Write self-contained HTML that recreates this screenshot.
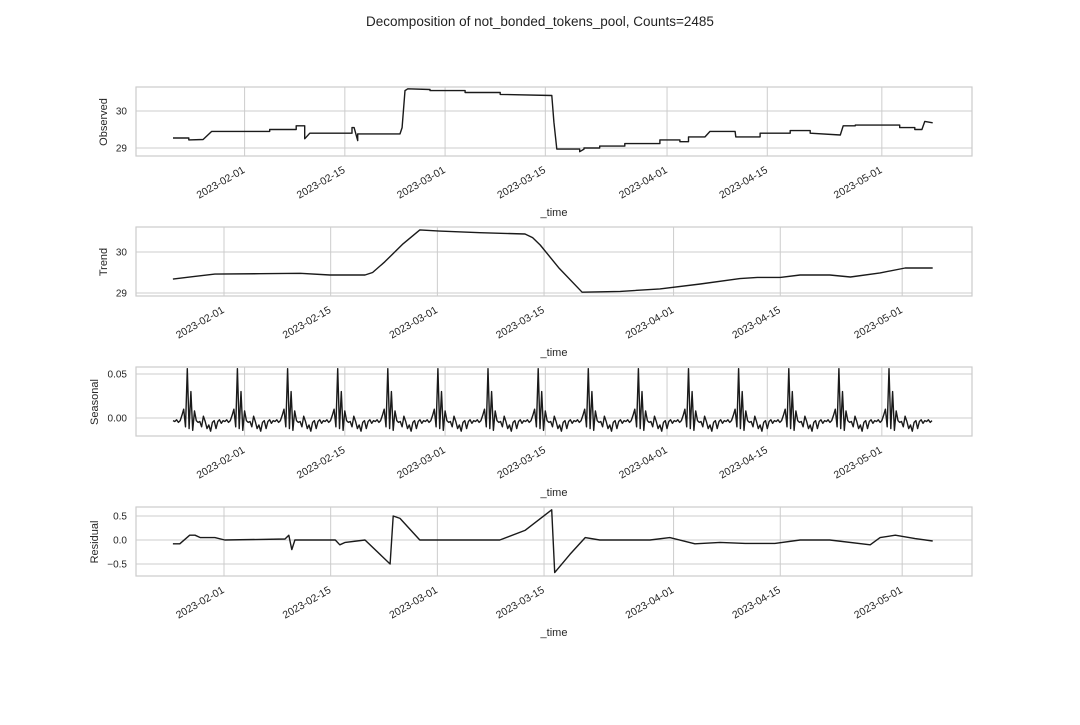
<!DOCTYPE html>
<html><head><meta charset="utf-8"><style>
body{margin:0;background:#fff;width:1080px;height:720px;overflow:hidden}
svg{font-family:"Liberation Sans",sans-serif}
</style></head><body>
<svg id="c" width="1080" height="720" xmlns="http://www.w3.org/2000/svg">
<text x="540" y="26" text-anchor="middle" font-size="13.5" fill="#222">Decomposition of not_bonded_tokens_pool, Counts=2485</text>
</svg>
<script>
// x ticks (days since 2023-01-22)
const tickDays=[10,24,38,52,69,83,99];
const tickLabels=["2023-02-01","2023-02-15","2023-03-01","2023-03-15","2023-04-01","2023-04-15","2023-05-01"];
// Observed (step series)
const obsDays=[0,2.2,2.2,4.2,5.4,13.5,13.5,17.2,17.2,18.0,18.4,18.4,19.1,25.0,25.0,25.3,25.8,25.8,31.7,32.0,32.4,32.8,35.9,35.9,40.8,40.8,45.7,45.7,52.9,53.2,53.6,56.8,56.8,57.4,57.4,59.6,59.6,63.1,63.1,68.0,68.0,70.8,70.8,72,72,74.3,75.0,78.5,78.6,82.0,82.0,86.2,86.2,89.0,89.0,93.2,93.6,95.3,95.3,101.5,101.5,103.6,103.6,104.6,105.0,106.1];
const obsVals=[29.27,29.27,29.22,29.23,29.45,29.45,29.5,29.5,29.6,29.6,29.6,29.25,29.4,29.4,29.55,29.55,29.2,29.38,29.38,29.55,30.55,30.6,30.58,30.55,30.55,30.5,30.5,30.45,30.42,29.7,28.97,28.97,28.9,28.97,29.0,29.0,29.05,29.05,29.12,29.12,29.22,29.22,29.17,29.17,29.3,29.3,29.45,29.45,29.3,29.3,29.4,29.4,29.47,29.47,29.4,29.35,29.6,29.6,29.62,29.62,29.55,29.55,29.5,29.5,29.72,29.68];
// Trend
const trendDays=[3.3,6,8.8,14.7,20.0,23.9,28.5,29.5,31.1,33.5,35.7,38.3,43.6,49.5,50.5,51.5,54,57.0,62.0,67.2,72.5,77.7,80,83.0,85.6,89.5,92.2,96.1,99.4,103.0];
const trendVals=[29.34,29.4,29.46,29.47,29.48,29.44,29.44,29.5,29.76,30.2,30.54,30.51,30.47,30.44,30.35,30.17,29.6,29.02,29.04,29.1,29.22,29.35,29.38,29.38,29.44,29.44,29.39,29.49,29.61,29.61];
// Seasonal weekly pattern (28 samples, 6h each)
const seasonalPattern=[-0.003,-0.005,-0.004,-0.010,0.002,-0.004,-0.012,-0.008,-0.015,-0.005,-0.003,-0.012,-0.004,-0.002,-0.006,-0.003,-0.004,-0.002,-0.005,-0.003,0.003,0.010,-0.010,0.056,-0.012,0.030,-0.014,0.008];
// Residual
const residDays=[3.3,4.2,5.5,6.2,6.9,8.8,10.1,18.0,18.5,18.9,19.3,24.6,25.2,25.9,28.5,31.8,32.2,33.1,35.7,46.2,49.5,53.0,53.4,55.4,57.4,59.3,65.9,68.5,71.8,75.1,78.4,82.3,85.6,89.5,94.8,96.1,98.1,100.7,103.0];
const residVals=[-0.08,-0.08,0.1,0.1,0.05,0.05,0.0,0.02,0.1,-0.2,0.0,0.0,-0.1,-0.05,0.0,-0.5,0.5,0.45,0.0,0.0,0.2,0.63,-0.68,-0.3,0.05,0.0,0.0,0.05,-0.08,-0.05,-0.07,-0.07,0.0,0.0,-0.1,0.05,0.1,0.03,-0.02];

const svg=document.getElementById('c');
const NS='http://www.w3.org/2000/svg';
function mk(t,a,p){const e=document.createElementNS(NS,t);for(const k in a)e.setAttribute(k,a[k]);(p||svg).appendChild(e);return e;}
const X0=136,X1=972;
const panels=[
 {name:'observed',label:'Observed',lx:107,top:87,x:d=>173+d*7.16,y:v=>111+(30-v)*37,yt:[29,30],fmt:v=>v.toString()},
 {name:'trend',label:'Trend',lx:107,top:227,x:d=>224+(d-10)*7.62,y:v=>252+(30-v)*41,yt:[29,30],fmt:v=>v.toString()},
 {name:'seasonal',label:'Seasonal',lx:98,top:367,x:d=>173+d*7.16,y:v=>418-v*880,yt:[0,0.05],fmt:v=>v.toFixed(2)},
 {name:'residual',label:'Residual',lx:98,top:507,x:d=>224+(d-10)*7.62,y:v=>540-v*48,yt:[-0.5,0,0.5],fmt:v=>(v<0?'\u2212':'')+Math.abs(v).toFixed(1)}
];
const seasDays=[],seasVals=[];
for(let i=0;i<=424;i++){seasDays.push(i*0.25);seasVals.push(seasonalPattern[(i+15)%28]);}
const series=[[obsDays,obsVals],[trendDays,trendVals],[seasDays,seasVals],[residDays,residVals]];
panels.forEach((p,pi)=>{
 const g=mk('g',{});
 
 
 const T=p.top,B=T+69;
 tickDays.forEach((d,i)=>{
  const x=p.x(d);
  const gl=mk('line',{x1:x,x2:x,y1:T,y2:B,stroke:'#cccccc','stroke-width':1},g);
  
  
  const tx=x+1,ty=B+16;
  const t=mk('text',{x:tx,y:ty,'font-size':10.5,fill:'#262626','text-anchor':'end',transform:`rotate(-30 ${tx} ${ty})`},g);
  t.textContent=tickLabels[i];
  
  
 });
 p.yt.forEach(v=>{
  const y=p.y(v);
  const gl=mk('line',{x1:X0,x2:X1,y1:y,y2:y,stroke:'#cccccc','stroke-width':1},g);
  
  
  const t=mk('text',{x:X0-9,y:y+3.5,'font-size':10,fill:'#262626','text-anchor':'end'},g);
  t.textContent=p.fmt(v);
  
  
 });
 const fr=mk('rect',{x:X0,y:T,width:X1-X0,height:69,fill:'none',stroke:'#cccccc','stroke-width':1.2},g);
 
 
 const [ds,vs]=series[pi];
 const pts=ds.map((d,i)=>p.x(d).toFixed(1)+','+p.y(vs[i]).toFixed(1)).join(' ');
 const pl=mk('polyline',{points:pts,fill:'none',stroke:'#1a1a1a','stroke-width':1.4,'stroke-linejoin':'round'},g);
 
 
 const yl=mk('text',{x:0,y:0,'font-size':11,fill:'#262626','text-anchor':'middle',transform:`translate(${p.lx} ${T+35}) rotate(-90)`},g);
 yl.textContent=p.label;
 
 
 const xl=mk('text',{x:554,y:B+60,'font-size':11,fill:'#262626','text-anchor':'middle'},g);
 xl.textContent='_time';
 
 
});
</script>
</body></html>
